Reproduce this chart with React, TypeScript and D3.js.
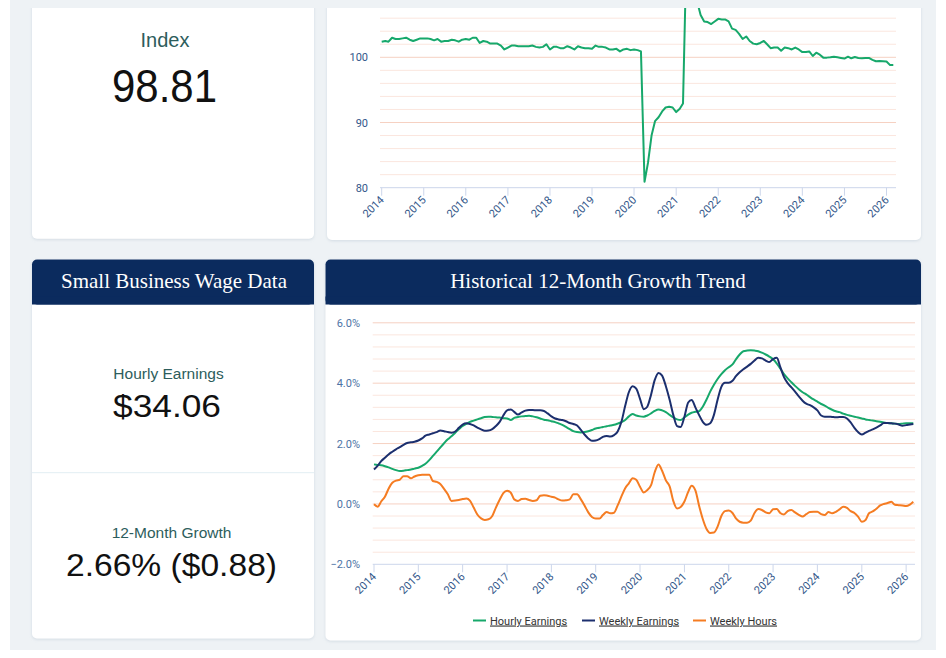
import React from "react";
import * as d3 from "d3";

// ---------- DATA ----------
const START_YEAR = 2014;
const YEARS = [2014, 2015, 2016, 2017, 2018, 2019, 2020, 2021, 2022, 2023, 2024, 2025, 2026];

// Small business index (monthly, Jan 2014 - Mar 2026)
const indexValues = [
  102.4, 102.5, 102.4, 103.0, 102.8, 102.8, 102.9, 103.0, 102.7, 102.5, 102.7, 102.9,
  102.9, 102.9, 102.8, 102.6, 102.8, 102.4, 102.5, 102.5, 102.7, 102.6, 102.4, 102.7,
  102.8, 102.7, 103.0, 103.0, 102.2, 102.5, 102.4, 102.1, 102.1, 102.1, 101.8, 101.2,
  101.5, 101.8, 101.8, 101.7, 101.7, 101.7, 101.7, 101.8, 101.6, 101.5, 101.6, 102.0,
  101.2, 101.6, 101.6, 101.4, 101.4, 101.7, 101.5, 101.2, 101.7, 101.5, 101.4, 101.4,
  101.3, 101.8, 101.6, 101.6, 101.5, 101.2, 101.2, 101.3, 100.9, 101.2, 101.3, 101.1,
  101.2, 101.1, 100.9, 80.9, 83.8, 88.0, 90.2, 90.8, 91.7, 92.3, 92.4, 92.3,
  91.6, 92.1, 92.9, 117.0, 114.0, 111.0, 108.6, 106.5, 105.5, 105.4, 105.1, 105.5,
  105.9, 105.8, 105.8, 105.5, 104.4, 104.2, 103.6, 102.8, 103.2, 102.5, 102.1, 102.0,
  102.2, 102.5, 102.0, 101.4, 101.5, 101.5, 101.0, 101.5, 101.4, 101.2, 101.5, 101.2,
  100.8, 100.8, 100.9, 100.2, 100.7, 100.4, 99.95, 99.95, 100.0, 100.1, 100.0, 99.9,
  99.8, 100.1, 99.85, 100.05, 99.9, 99.85, 99.9, 99.9, 99.6, 99.4, 99.45, 99.4,
  99.35, 98.8, 98.81,
];

// 12-month growth (%), monthly
const hourlyEarnings = [
  1.31, 1.29, 1.28, 1.25, 1.21, 1.16, 1.12, 1.09, 1.10, 1.12, 1.14, 1.17,
  1.20, 1.26, 1.33, 1.45, 1.59, 1.73, 1.87, 2.01, 2.14, 2.24, 2.36, 2.47,
  2.58, 2.65, 2.72, 2.76, 2.80, 2.84, 2.88, 2.89, 2.88, 2.87, 2.86, 2.84,
  2.83, 2.78, 2.85, 2.88, 2.90, 2.91, 2.92, 2.90, 2.87, 2.83, 2.79, 2.77,
  2.74, 2.71, 2.67, 2.62, 2.55, 2.48, 2.41, 2.38, 2.37, 2.38, 2.41, 2.45,
  2.50, 2.52, 2.55, 2.57, 2.60, 2.62, 2.66, 2.71, 2.78, 2.90, 2.98, 2.93,
  2.90, 2.89, 2.93, 3.00, 3.08, 3.13, 3.10, 3.04, 2.95, 2.87, 2.80, 2.78,
  2.87, 2.96, 3.02, 3.05, 3.07, 3.22, 3.45, 3.72, 3.95, 4.14, 4.30, 4.43,
  4.53, 4.62, 4.79, 4.95, 5.06, 5.08, 5.09, 5.08, 5.06, 5.01, 4.95, 4.88,
  4.79, 4.65, 4.49, 4.30, 4.16, 4.03, 3.91, 3.80, 3.70, 3.63, 3.54, 3.46,
  3.39, 3.31, 3.26, 3.18, 3.12, 3.07, 3.04, 2.99, 2.95, 2.92, 2.89, 2.86,
  2.83, 2.80, 2.78, 2.76, 2.74, 2.72, 2.70, 2.68, 2.67, 2.66, 2.65, 2.66,
  2.67, 2.67, 2.67,
];

const weeklyEarnings = [
  1.14, 1.27, 1.42, 1.53, 1.64, 1.73, 1.81, 1.88, 1.96, 2.02, 2.04, 2.06,
  2.10, 2.17, 2.26, 2.30, 2.34, 2.38, 2.43, 2.41, 2.38, 2.36, 2.40, 2.52,
  2.63, 2.67, 2.65, 2.60, 2.53, 2.47, 2.42, 2.43, 2.48, 2.58, 2.72, 2.93,
  3.10, 3.13, 3.05, 2.96, 3.03, 3.09, 3.11, 3.11, 3.10, 3.10, 3.08, 3.00,
  2.90, 2.83, 2.80, 2.78, 2.74, 2.68, 2.65, 2.60, 2.45, 2.30, 2.17, 2.09,
  2.10, 2.15, 2.22, 2.25, 2.23, 2.28, 2.40, 2.72, 3.25, 3.70, 3.90, 3.82,
  3.48, 3.14, 3.22, 3.62, 4.10, 4.34, 4.25, 3.90, 3.45, 2.95, 2.58, 2.55,
  2.89, 3.36, 3.44, 3.20, 2.95, 2.72, 2.62, 2.67, 2.95, 3.45, 3.88, 4.01,
  4.01, 4.08, 4.23, 4.36, 4.46, 4.55, 4.64, 4.75, 4.84, 4.82, 4.75, 4.70,
  4.80, 4.84, 4.54, 4.20, 4.00, 3.86, 3.72, 3.56, 3.42, 3.32, 3.27, 3.20,
  3.10, 2.93, 2.89, 2.89, 2.88, 2.87, 2.88, 2.88, 2.83, 2.70, 2.52, 2.38,
  2.30, 2.36, 2.42, 2.47, 2.53, 2.60, 2.68, 2.68, 2.67, 2.66, 2.63, 2.59,
  2.61, 2.63, 2.65,
];

const weeklyHours = [
  -0.01, -0.09, 0.08, 0.24, 0.50, 0.70, 0.77, 0.80, 0.92, 0.92, 0.85, 0.91,
  0.95, 0.97, 0.97, 0.97, 0.76, 0.73, 0.66, 0.50, 0.32, 0.10, 0.11, 0.13,
  0.16, 0.18, 0.11, -0.12, -0.35, -0.48, -0.53, -0.51, -0.40, -0.12, 0.14, 0.36,
  0.44, 0.37, 0.15, 0.10, 0.16, 0.17, 0.13, 0.10, 0.12, 0.27, 0.29, 0.27,
  0.24, 0.21, 0.15, 0.11, 0.12, 0.15, 0.32, 0.32, 0.15, -0.05, -0.28, -0.43,
  -0.48, -0.48, -0.37, -0.27, -0.31, -0.29, -0.05, 0.25, 0.52, 0.68, 0.85, 0.80,
  0.57, 0.38, 0.46, 0.62, 1.05, 1.31, 1.10, 0.78, 0.58, 0.10, -0.15, -0.10,
  0.08, 0.40, 0.60, 0.45, -0.05, -0.50, -0.82, -0.96, -0.95, -0.75, -0.40, -0.24,
  -0.22, -0.30, -0.48, -0.59, -0.62, -0.62, -0.55, -0.30, -0.17, -0.20, -0.28, -0.31,
  -0.18, -0.17, -0.30, -0.35, -0.24, -0.20, -0.28, -0.36, -0.42, -0.34, -0.27, -0.26,
  -0.26, -0.34, -0.37, -0.27, -0.31, -0.26, -0.18, -0.09, -0.13, -0.24, -0.30, -0.42,
  -0.59, -0.53, -0.31, -0.25, -0.16, -0.05, 0.00, 0.03, 0.07, -0.03, -0.04, -0.05,
  -0.07, -0.02, 0.07,
];

const indexTicks = [80, 90, 100];
const growthTicks = [-2, 0, 2, 4, 6];
const seriesNames = ["Hourly Earnings", "Weekly Earnings", "Weekly Hours"];
const seriesColors = ["#17a86b", "#1c2f6e", "#f57c22"];

// ---------- STYLE / LAYOUT ----------
const SANS = "Roboto, 'Liberation Sans', Arial, sans-serif";
const CARD_SANS = "'Liberation Sans', Arial, sans-serif";
const SERIF = "'Liberation Serif', 'Times New Roman', serif";
const NAVY = "#0b2b5e";
const LABEL_TEAL = "#2d5d5c";
const AXIS_TEXT = "#33578a";
const GRID_MINOR = "#fbe6de";
const GRID_MAJOR = "#f6d1c2";
const AXIS_LINE = "#ccd6eb";
const BG = "#eef2f5";
const LEGEND_X = [473, 582, 693];

function Card({ x, y, w, h }: { x: number; y: number; w: number; h: number }) {
  return <rect x={x} y={y} width={w} height={h} rx={5} fill="#ffffff" filter="url(#shadow)" />;
}

function Header({ x, y, w, h, title, cx }: { x: number; y: number; w: number; h: number; title: string; cx: number }) {
  return (
    <g>
      <rect x={x} y={y} width={w} height={h} rx={5} fill={NAVY} />
      <rect x={x} y={y + h - 8} width={w} height={8} fill={NAVY} />
      <text x={cx} y={y + 28} textAnchor="middle" fontFamily={SERIF} fontSize={21} fill="#ffffff">
        {title}
      </text>
    </g>
  );
}

export default function App() {
  const dates = indexValues.map((_, i) => d3.timeMonth.offset(new Date(START_YEAR, 0, 1), i));
  const yearDates = YEARS.map((y) => new Date(y, 0, 1));
  const domain = [dates[0], dates[dates.length - 1]] as [Date, Date];

  // Top chart scales
  const xTop = d3.scaleTime().domain(domain).range([381.7, 893.3]);
  const yTop = d3.scaleLinear().domain([80, 100]).range([187.7, 57.3]);
  const topAxisY = yTop(80);
  const topGrid = d3.range(82, 107, 2);
  const topLine = d3
    .line<number>()
    .x((_, i) => xTop(dates[i]))
    .y((d) => yTop(d))
    .curve(d3.curveLinear)(indexValues) as string;

  // Bottom chart scales
  const xBot = d3.scaleTime().domain(domain).range([374, 913.3]);
  const yBot = d3.scaleLinear().domain([-2, 6]).range([564.3, 322.8]);
  const botAxisY = yBot(-2);
  const botGridK = d3.range(-4, 16);
  const series = [hourlyEarnings, weeklyEarnings, weeklyHours];
  const lineGen = d3
    .line<number>()
    .x((_, i) => xBot(dates[i]))
    .y((d) => yBot(d))
    .curve(d3.curveMonotoneX);

  return (
    <svg
      width={946}
      height={658}
      viewBox="0 0 946 658"
      style={{ position: "absolute", left: 0, top: 0, display: "block" }}
    >
      <defs>
        <filter id="shadow" x="-10%" y="-10%" width="120%" height="120%">
          <feDropShadow dx="0" dy="1" stdDeviation="1.5" floodColor="#9fb0c2" floodOpacity="0.35" />
        </filter>
        <clipPath id="topClip">
          <rect x={327} y={8} width={594} height={200} />
        </clipPath>
      </defs>

      <rect x={0} y={0} width={946} height={658} fill="#ffffff" />
      <rect x={10} y={0} width={926} height={650} fill={BG} />

      {/* Top cards */}
      <Card x={32} y={-20} w={282} h={258.7} />
      <Card x={327} y={-20} w={594} h={260} />

      {/* Index value card */}
      <text x={165} y={46.7} textAnchor="middle" fontFamily={CARD_SANS} fontSize={20} fill={LABEL_TEAL}>
        Index
      </text>
      <text x={112} y={102} fontFamily={CARD_SANS} fontSize={46} fill="#111111" textLength={105} lengthAdjust="spacingAndGlyphs">
        98.81
      </text>

      {/* Top chart: grid */}
      {topGrid.map((v) => (
        <line
          key={"tg" + v}
          x1={380}
          x2={896}
          y1={yTop(v)}
          y2={yTop(v)}
          stroke={v % 10 === 0 ? GRID_MAJOR : GRID_MINOR}
          strokeWidth={1}
        />
      ))}
      <line x1={380} x2={896} y1={topAxisY} y2={topAxisY} stroke={AXIS_LINE} strokeWidth={1} />
      {yearDates.map((d, i) => (
        <g key={"tt" + i}>
          <line x1={xTop(d)} x2={xTop(d)} y1={topAxisY} y2={topAxisY + 8} stroke={AXIS_LINE} strokeWidth={1} />
          <text
            transform={`translate(${xTop(d) + 3},${topAxisY + 13}) rotate(-45)`}
            textAnchor="end"
            fontFamily={SANS}
            fontSize={11}
            fill={AXIS_TEXT}
          >
            {YEARS[i]}
          </text>
        </g>
      ))}
      {indexTicks.map((v) => (
        <text key={"ty" + v} x={368} y={yTop(v) + 4} textAnchor="end" fontFamily={SANS} fontSize={11} fill={AXIS_TEXT}>
          {v}
        </text>
      ))}
      <path d={topLine} fill="none" stroke={seriesColors[0]} strokeWidth={2} clipPath="url(#topClip)" strokeLinejoin="round" />

      {/* Bottom-left card */}
      <Card x={32} y={259.5} w={282} h={379} />
      <Header x={32} y={259.5} w={282} h={45} title="Small Business Wage Data" cx={174} />
      <line x1={32} x2={314} y1={472.7} y2={472.7} stroke="#e2eef3" strokeWidth={1} />
      <text x={168.5} y={378.5} textAnchor="middle" fontFamily={CARD_SANS} fontSize={15.5} fill={LABEL_TEAL}>
        Hourly Earnings
      </text>
      <text x={113} y={417} fontFamily={CARD_SANS} fontSize={31} fill="#111111" textLength={108} lengthAdjust="spacingAndGlyphs">
        $34.06
      </text>
      <text x={171.5} y={538.3} textAnchor="middle" fontFamily={CARD_SANS} fontSize={15.5} fill={LABEL_TEAL}>
        12-Month Growth
      </text>
      <text x={66} y={576} fontFamily={CARD_SANS} fontSize={32} fill="#111111" textLength={211} lengthAdjust="spacingAndGlyphs">
        2.66% ($0.88)
      </text>

      {/* Bottom-right card */}
      <Card x={325.5} y={259.5} w={595.5} h={381} />
      <Header x={325.5} y={259.5} w={595.5} h={45} title="Historical 12-Month Growth Trend" cx={598} />

      {botGridK.map((k) => {
        const v = k * 0.4;
        return (
          <line
            key={"bg" + k}
            x1={372.7}
            x2={915}
            y1={yBot(v)}
            y2={yBot(v)}
            stroke={k % 5 === 0 ? GRID_MAJOR : GRID_MINOR}
            strokeWidth={1}
          />
        );
      })}
      <line x1={372.7} x2={915} y1={botAxisY} y2={botAxisY} stroke={AXIS_LINE} strokeWidth={1} />
      {yearDates.map((d, i) => (
        <g key={"bt" + i}>
          <line x1={xBot(d)} x2={xBot(d)} y1={botAxisY} y2={botAxisY + 8} stroke={AXIS_LINE} strokeWidth={1} />
          <text
            transform={`translate(${xBot(d) + 3},${botAxisY + 13}) rotate(-45)`}
            textAnchor="end"
            fontFamily={SANS}
            fontSize={11}
            fill={AXIS_TEXT}
          >
            {YEARS[i]}
          </text>
        </g>
      ))}
      {growthTicks.map((v) => (
        <text key={"by" + v} x={360} y={yBot(v) + 4} textAnchor="end" fontFamily={SANS} fontSize={11} fill="#4d73a5">
          {d3.format(".1f")(v) + "%"}
        </text>
      ))}
      {series.map((s, i) => (
        <path
          key={"s" + i}
          d={lineGen(s) as string}
          fill="none"
          stroke={seriesColors[i]}
          strokeWidth={2}
          strokeLinejoin="round"
        />
      ))}

      {/* Legend */}
      {seriesNames.map((name, i) => (
        <g key={"lg" + i}>
          <line x1={LEGEND_X[i]} x2={LEGEND_X[i] + 13} y1={620.5} y2={620.5} stroke={seriesColors[i]} strokeWidth={2} />
          <text
            x={LEGEND_X[i] + 17}
            y={624.5}
            fontFamily={SANS}
            fontSize={11}
            fill="#333333"
            textDecoration="underline"
            style={{ textDecoration: "underline" }}
          >
            {name}
          </text>
        </g>
      ))}

      {/* top band (page is scrolled: cards cut at top) */}
      <rect x={10} y={0} width={926} height={8} fill={BG} />
    </svg>
  );
}
